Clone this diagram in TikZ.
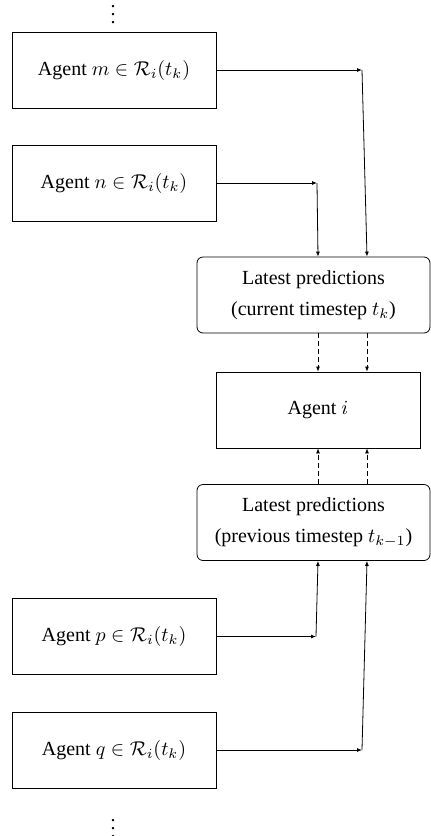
\documentclass[tikz,border=0pt]{standalone}
\usepackage{amsmath}
\usepackage{amssymb}
\usepackage{fontspec}
\setmainfont{Liberation Serif}
\usetikzlibrary{arrows.meta, positioning}

\begin{document}
\begin{tikzpicture}[x=0.5pt, y=-0.5pt,
        agent/.style={draw, minimum width=102pt, minimum height=38pt, inner sep=0pt},
        predbox/.style={draw, rounded corners=3pt, minimum width=116.5pt, minimum height=38pt,
            align=center, inner sep=0pt},
        dots/.style={inner sep=0pt},
        dashlink/.style={->, dash pattern=on 2.5pt off 1.5pt},
        >={Latex[length=2.5pt,width=2pt]}]
    \useasboundingbox (0,0) rectangle (431,836);

    % neighbours at the current timestep
    \node[dots] (dotstop) at (113,9) {$\vdots$};
    \node[agent] (m) at (114,70) {Agent $m \in \mathcal{R}_i(t_k)$};
    \node[agent] (n) at (114,183) {Agent $n \in \mathcal{R}_i(t_k)$};

    % predictions and agent i
    \node[predbox] (cur) at (313.5,295) {Latest predictions\\[3.5pt] (current timestep $t_k$)};
    \node[agent] (ai) at (318,410) {Agent $i$};
    \node[predbox] (prev) at (313.5,522.5) {Latest predictions\\[3.5pt] (previous timestep $t_{k-1}$)};

    % neighbours at the previous timestep
    \node[agent] (p) at (114,636.5) {Agent $p \in \mathcal{R}_i(t_k)$};
    \node[agent] (q) at (114,750) {Agent $q \in \mathcal{R}_i(t_k)$};
    \node[dots] (dotsbot) at (113,823) {$\vdots$};

    \coordinate (jm) at (362,70);
    \coordinate (jn) at (317,183);
    \coordinate (jp) at (316,636.5);
    \coordinate (jq) at (362,750);

    \draw[->] (m.east) -- (jm);
    \draw[->] (jm) -- ([xshift=26.75pt]cur.north);
    \draw[->] (n.east) -- (jn);
    \draw[->] (jn) -- ([xshift=2.25pt]cur.north);

    \draw[dashlink] ([xshift=2.25pt]cur.south) -- (ai.north);
    \draw[dashlink] ([xshift=26.75pt]cur.south) -- ([xshift=24.5pt]ai.north);
    \draw[dashlink] ([xshift=2.25pt]prev.north) -- (ai.south);
    \draw[dashlink] ([xshift=26.75pt]prev.north) -- ([xshift=24.5pt]ai.south);

    \draw[->] (p.east) -- (jp);
    \draw[->] (jp) -- ([xshift=2.25pt]prev.south);
    \draw[->] (q.east) -- (jq);
    \draw[->] (jq) -- ([xshift=26.75pt]prev.south);
\end{tikzpicture}
\end{document}
